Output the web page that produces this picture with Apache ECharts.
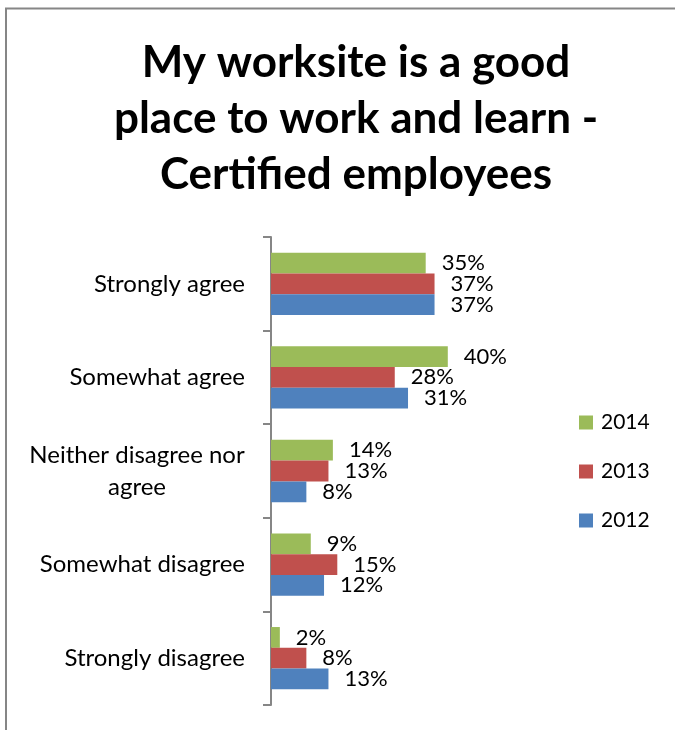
<!DOCTYPE html>
<html>
<head>
<meta charset="utf-8">
<script src="https://cdn.jsdelivr.net/npm/echarts@6/dist/echarts.min.js"></script>
<style>
  html, body { margin: 0; padding: 0; background: #fff; }
  #chart { width: 675px; height: 730px; }
</style>
</head>
<body>
<div id="chart"></div>
<script>
// Survey responses, percent of certified employees
const categories = [
  'Strongly agree',
  'Somewhat agree',
  'Neither disagree nor\nagree',
  'Somewhat disagree',
  'Strongly disagree'
];
const years = ['2014', '2013', '2012'];
const values2014 = [35, 40, 14, 9, 2];
const values2013 = [37, 28, 13, 15, 8];
const values2012 = [37, 31, 8, 12, 13];

const colors = { '2014': '#9BBB59', '2013': '#C0504D', '2012': '#4F81BD' };
const seriesValues = { '2014': values2014, '2013': values2013, '2012': values2012 };

const FONT = 'Lato, "Open Sans", sans-serif';
const CAT_FONT_SIZE = 24;

// Width of the widest line of a wrapped category label, so its lines can be centred in one block
function textWidth(str, size) {
  const ctx = document.createElement('canvas').getContext('2d');
  ctx.font = size + 'px ' + FONT;
  return Math.ceil(ctx.measureText(str).width);
}
let wrapWidth = 0;
categories.forEach(function (c) {
  if (c.indexOf('\n') >= 0) {
    c.split('\n').forEach(function (s) { wrapWidth = Math.max(wrapWidth, textWidth(s, CAT_FONT_SIZE)); });
  }
});

const chart = echarts.init(document.getElementById('chart'), null, { renderer: 'canvas' });

chart.setOption({
  backgroundColor: '#ffffff',
  animation: false,
  title: {
    text: 'My worksite is a good\nplace to work and learn -\nCertified employees',
    left: 356,
    top: 35,
    textAlign: 'center',
    padding: 0,
    textStyle: {
      fontFamily: FONT,
      fontWeight: 'bold',
      fontSize: 44,
      lineHeight: 56,
      color: '#000000'
    }
  },
  legend: {
    orient: 'vertical',
    left: 579,
    top: 412,
    itemWidth: 14,
    itemHeight: 14,
    itemGap: 28,
    icon: 'rect',
    padding: 0,
    data: years,
    textStyle: {
      fontFamily: FONT,
      fontSize: 21,
      color: '#000000',
      padding: [0, 0, 0, 3]
    }
  },
  grid: {
    left: 271,
    top: 237,
    width: 221,
    height: 468,
    containLabel: false
  },
  xAxis: {
    type: 'value',
    min: 0,
    max: 50,
    show: false,
    splitLine: { show: false }
  },
  yAxis: {
    type: 'category',
    inverse: true,
    data: categories,
    axisLine: { show: true, lineStyle: { color: '#868686', width: 2 } },
    axisTick: { show: true, inside: false, length: 8, lineStyle: { color: '#868686', width: 2 } },
    axisLabel: {
      margin: 26,
      fontFamily: FONT,
      fontSize: CAT_FONT_SIZE,
      color: '#000000',
      lineHeight: 32,
      formatter: function (v) {
        if (v.indexOf('\n') < 0) return v;
        return v.split('\n').map(function (s) { return '{c|' + s + '}'; }).join('\n');
      },
      rich: {
        c: {
          width: wrapWidth,
          align: 'center',
          fontFamily: FONT,
          fontSize: CAT_FONT_SIZE,
          lineHeight: 32,
          color: '#000000'
        }
      }
    },
    splitLine: { show: false }
  },
  series: years.map(function (y) {
    return {
      name: y,
      type: 'bar',
      data: seriesValues[y],
      barGap: '0%',
      barCategoryGap: '33.4%',
      itemStyle: { color: colors[y] },
      label: {
        show: true,
        position: 'right',
        distance: 16,
        formatter: '{c}%',
        fontFamily: FONT,
        fontSize: 22,
        color: '#000000'
      }
    };
  }),
  graphic: [
    {
      type: 'polyline',
      silent: true,
      shape: { points: [[6, 740], [6, 8.5], [690, 8.5]] },
      style: { stroke: '#868686', lineWidth: 2, fill: null }
    }
  ]
});
</script>
</body>
</html>
